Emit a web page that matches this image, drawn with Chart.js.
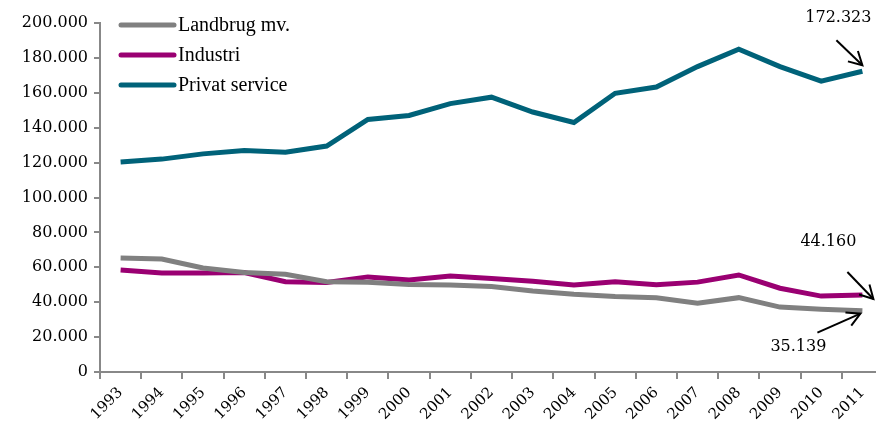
<!DOCTYPE html>
<html>
<head>
<meta charset="utf-8">
<script src="https://cdn.jsdelivr.net/npm/chart.js@4/dist/chart.umd.min.js"></script>
<style>
html,body{margin:0;padding:0;background:#fff;overflow:hidden;width:876px;height:424px;}
#wrap{width:883px;height:424px;position:relative;}
</style>
</head>
<body>
<div id="wrap"><canvas id="c"></canvas></div>
<script>
const years = ['1993','1994','1995','1996','1997','1998','1999','2000','2001','2002','2003','2004','2005','2006','2007','2008','2009','2010','2011'];
const landbrug = [65300,64700,59600,57000,56000,51700,51500,50200,49800,49000,46400,44500,43200,42600,39400,42600,37200,36000,35139];
const industri = [58400,56700,56700,57000,51700,51300,54500,52700,55000,53600,52000,49900,51700,50000,51500,55600,48000,43500,44160];
const privat = [120300,122000,125000,127000,126000,129500,144700,147000,153800,157500,149000,143000,159700,163300,175000,185000,175000,166700,172323];
const seriesNames = ['Landbrug mv.','Industri','Privat service'];
const seriesColors = ['#808080','#9A0072','#006279'];
const yTicks = [0,20000,40000,60000,80000,100000,120000,140000,160000,180000,200000];
const annotations = [
  {label:'172.323', series:2, index:18},
  {label:'44.160', series:1, index:18},
  {label:'35.139', series:0, index:18}
];

const FONT = "'DejaVu Serif','Liberation Serif',Georgia,serif";
const LFONT = "'Liberation Serif','Times New Roman',serif";
function fmtNum(v){ if(v===0) return '0'; const s=String(v); return s.replace(/\B(?=(\d{3})+(?!\d))/g,'.'); }

const legendPlugin = {
  id:'customLegend',
  afterDraw(chart){
    const ctx = chart.ctx;
    ctx.save();
    ctx.font = "20px " + LFONT;
    ctx.textBaseline = 'middle';
    seriesNames.forEach((n,i)=>{
      const y = 25 + i*30;
      ctx.strokeStyle = seriesColors[i];
      ctx.lineWidth = 5;
      ctx.lineCap = 'round';
      ctx.beginPath(); ctx.moveTo(121,y); ctx.lineTo(174,y); ctx.stroke();
      ctx.fillStyle = '#000';
      ctx.fillText(n,178,y+1);
    });
    ctx.restore();
  }
};

function arrow(ctx,x1,y1,x2,y2){
  ctx.beginPath(); ctx.moveTo(x1,y1); ctx.lineTo(x2,y2); ctx.stroke();
  const a = Math.atan2(y2-y1,x2-x1);
  const L = 15, w = 0.5;
  ctx.beginPath();
  ctx.moveTo(x2 - L*Math.cos(a-w), y2 - L*Math.sin(a-w));
  ctx.lineTo(x2,y2);
  ctx.lineTo(x2 - L*Math.cos(a+w), y2 - L*Math.sin(a+w));
  ctx.stroke();
}

const annotPlugin = {
  id:'annot',
  afterDraw(chart){
    const ctx = chart.ctx;
    const xs = chart.scales.x, ys = chart.scales.y;
    const data = [landbrug, industri, privat];
    ctx.save();
    ctx.font = "16px " + FONT;
    ctx.fillStyle = '#000';
    ctx.strokeStyle = '#000';
    ctx.lineWidth = 2;
    ctx.textAlign = 'center';
    ctx.textBaseline = 'middle';
    annotations.forEach(a=>{
      const px = xs.getPixelForValue(a.index);
      const py = ys.getPixelForValue(data[a.series][a.index]);
      if(a.series===2){
        ctx.fillText(a.label, px-24, py-53);
        arrow(ctx, px-26, py-31, px, py-6);
      } else if(a.series===1){
        ctx.fillText(a.label, px-34, py-53);
        arrow(ctx, px-15, py-23, px+11, py+4);
      } else {
        ctx.fillText(a.label, px-64, py+36);
        arrow(ctx, px-45, py+22, px-2, py+3);
      }
    });
    ctx.restore();
  }
};

new Chart(document.getElementById('c'),{
  type:'line',
  data:{
    labels:years,
    datasets:[
      {label:seriesNames[0],data:landbrug,borderColor:seriesColors[0],borderWidth:5,pointRadius:0,tension:0,fill:false},
      {label:seriesNames[1],data:industri,borderColor:seriesColors[1],borderWidth:5,pointRadius:0,tension:0,fill:false},
      {label:seriesNames[2],data:privat,borderColor:seriesColors[2],borderWidth:5,pointRadius:0,tension:0,fill:false}
    ]
  },
  options:{
    responsive:true,
    maintainAspectRatio:false,
    animation:false,
    devicePixelRatio:1,
    layout:{padding:{top:23,right:0,left:0,bottom:0}},
    plugins:{legend:{display:false},tooltip:{enabled:false}},
    scales:{
      x:{
        type:'category',
        offset:true,
        grid:{display:true,drawOnChartArea:false,offset:true,color:'#888',tickLength:7,lineWidth:2},
        border:{display:true,color:'#888',width:2},
        ticks:{color:'#000',font:{family:FONT,size:15},maxRotation:45,minRotation:45,padding:5,autoSkip:false},
        afterFit(s){s.height=52;}
      },
      y:{
        min:0,max:200000,
        afterBuildTicks(s){s.ticks = yTicks.map(v=>({value:v}));},
        grid:{display:true,drawOnChartArea:false,color:'#888',tickLength:6,lineWidth:2},
        border:{display:true,color:'#888',width:2},
        ticks:{color:'#000',font:{family:FONT,size:16},padding:6,callback:(v)=>fmtNum(v)},
        afterFit(s){s.width=100;}
      }
    }
  },
  plugins:[legendPlugin,annotPlugin]
});
</script>
</body>
</html>
